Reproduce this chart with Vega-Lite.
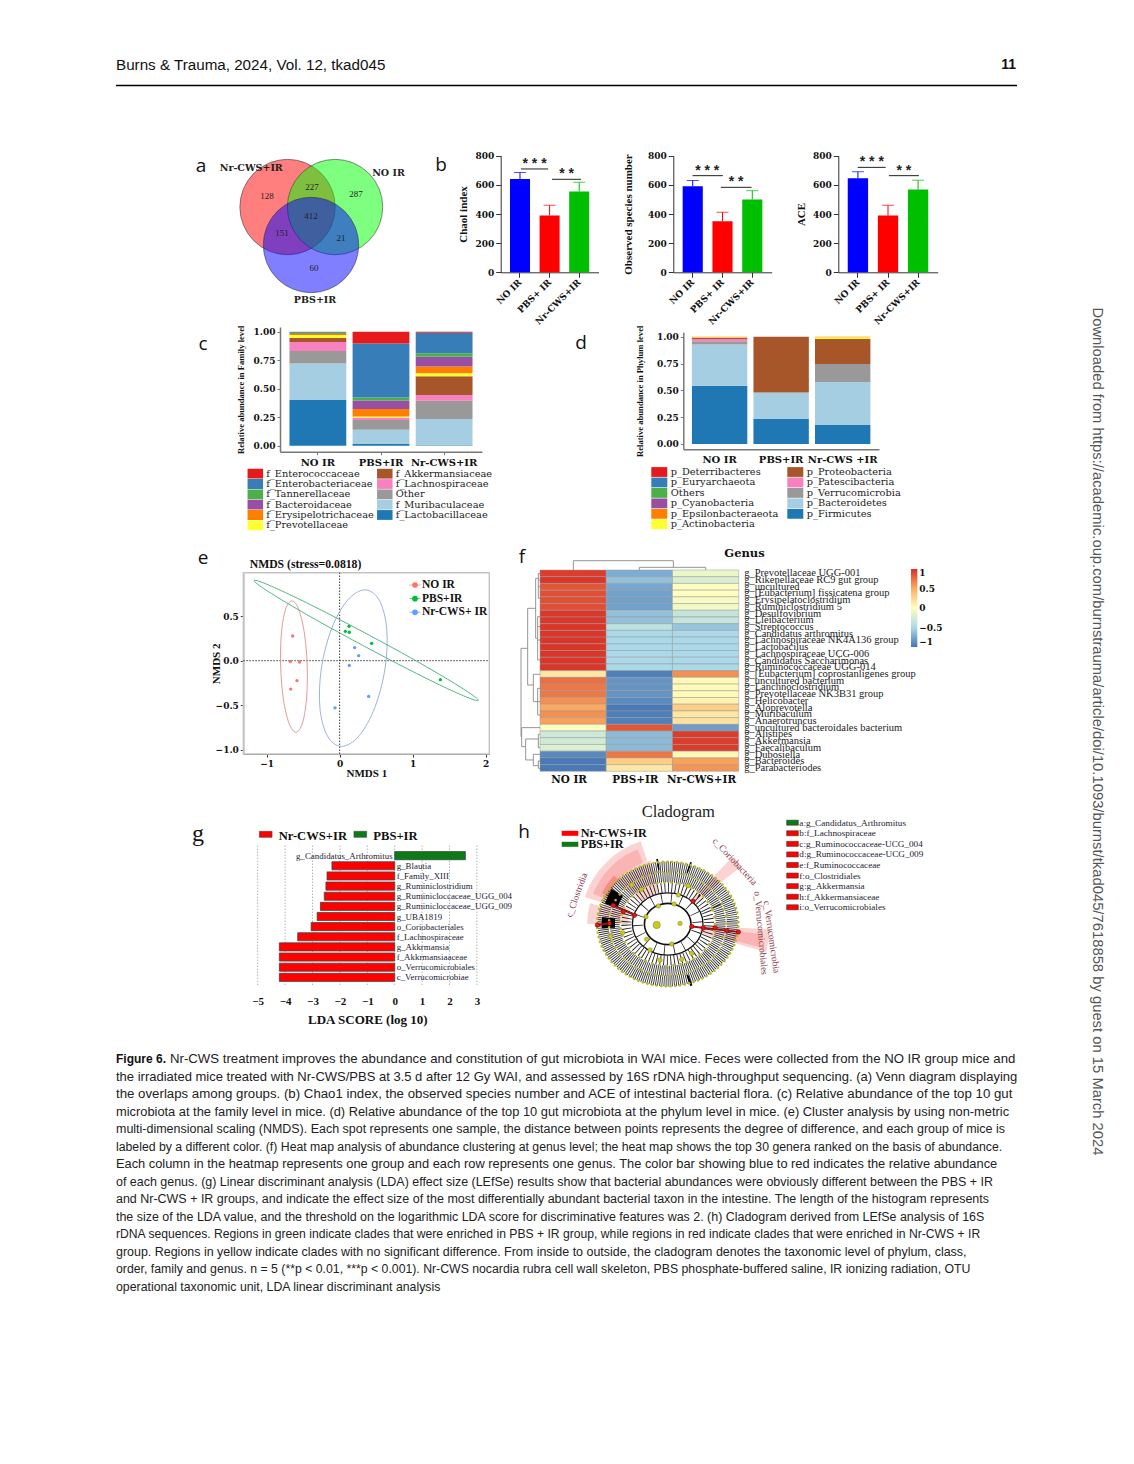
{"$schema":"https://vega.github.io/schema/vega-lite/v6.json","width":1134,"height":1464,"autosize":"none","padding":0,"background":"white",
"config":{"view":{"stroke":null},"axis":{"grid":false,"labelFont":"DejaVu Serif","labelFontWeight":"bold","labelFontSize":9,"labelColor":"#111","domainColor":"#333","tickColor":"#333","tickSize":5,"titleFont":"Liberation Serif","titleFontWeight":"bold","titleFontSize":11,"titleColor":"#111","labelOverlap":false,"labelBound":false,"labelFlush":false}},
"datasets":{
"alpha":[
{"chart":"chao","group":"NO IR","mean":640,"err":685},{"chart":"chao","group":"PBS+ IR","mean":390,"err":460},{"chart":"chao","group":"Nr-CWS+IR","mean":555,"err":618},
{"chart":"obs","group":"NO IR","mean":590,"err":630},{"chart":"obs","group":"PBS+ IR","mean":350,"err":412},{"chart":"obs","group":"Nr-CWS+IR","mean":500,"err":560},
{"chart":"ace","group":"NO IR","mean":645,"err":690},{"chart":"ace","group":"PBS+ IR","mean":390,"err":460},{"chart":"ace","group":"Nr-CWS+IR","mean":568,"err":632}],
"sig":[
{"chart":"chao","from":0.03,"to":0.95,"mid":0.49,"level":709,"stars":"* * *"},{"chart":"chao","from":1.08,"to":2.06,"mid":1.57,"level":638,"stars":"* *"},
{"chart":"obs","from":0,"to":1.03,"mid":0.5,"level":663,"stars":"* * *"},{"chart":"obs","from":0.96,"to":2,"mid":1.48,"level":583,"stars":"* *"},
{"chart":"ace","from":0,"to":0.93,"mid":0.47,"level":720,"stars":"* * *"},{"chart":"ace","from":1.04,"to":2.04,"mid":1.54,"level":663,"stars":"* *"}],
"family":[
{"group":"NO IR","taxon":"f_Lactobacillaceae","value":0.40,"rank":1},{"group":"NO IR","taxon":"f_Muribaculaceae","value":0.32,"rank":2},{"group":"NO IR","taxon":"Other","value":0.11,"rank":3},{"group":"NO IR","taxon":"f_Lachnospiraceae","value":0.08,"rank":4},{"group":"NO IR","taxon":"f_Akkermansiaceae","value":0.035,"rank":5},{"group":"NO IR","taxon":"f_Prevotellaceae","value":0.025,"rank":6},{"group":"NO IR","taxon":"f_Erysipelotrichaceae","value":0.012,"rank":7},{"group":"NO IR","taxon":"f_Bacteroidaceae","value":0.006,"rank":8},{"group":"NO IR","taxon":"f_Tannerellaceae","value":0.012,"rank":9},
{"group":"PBS+IR","taxon":"f_Lactobacillaceae","value":0.015,"rank":1},{"group":"PBS+IR","taxon":"f_Muribaculaceae","value":0.125,"rank":2},{"group":"PBS+IR","taxon":"Other","value":0.085,"rank":3},{"group":"PBS+IR","taxon":"f_Lachnospiraceae","value":0.02,"rank":4},{"group":"PBS+IR","taxon":"f_Prevotellaceae","value":0.012,"rank":6},{"group":"PBS+IR","taxon":"f_Erysipelotrichaceae","value":0.065,"rank":7},{"group":"PBS+IR","taxon":"f_Bacteroidaceae","value":0.075,"rank":8},{"group":"PBS+IR","taxon":"f_Tannerellaceae","value":0.025,"rank":9},{"group":"PBS+IR","taxon":"f_Enterobacteriaceae","value":0.475,"rank":10},{"group":"PBS+IR","taxon":"f_Enterococcaceae","value":0.103,"rank":11},
{"group":"Nr-CWS+IR","taxon":"f_Lactobacillaceae","value":0.005,"rank":1},{"group":"Nr-CWS+IR","taxon":"f_Muribaculaceae","value":0.23,"rank":2},{"group":"Nr-CWS+IR","taxon":"Other","value":0.16,"rank":3},{"group":"Nr-CWS+IR","taxon":"f_Lachnospiraceae","value":0.05,"rank":4},{"group":"Nr-CWS+IR","taxon":"f_Akkermansiaceae","value":0.165,"rank":5},{"group":"Nr-CWS+IR","taxon":"f_Prevotellaceae","value":0.025,"rank":6},{"group":"Nr-CWS+IR","taxon":"f_Erysipelotrichaceae","value":0.06,"rank":7},{"group":"Nr-CWS+IR","taxon":"f_Bacteroidaceae","value":0.085,"rank":8},{"group":"Nr-CWS+IR","taxon":"f_Tannerellaceae","value":0.03,"rank":9},{"group":"Nr-CWS+IR","taxon":"f_Enterobacteriaceae","value":0.18,"rank":10},{"group":"Nr-CWS+IR","taxon":"f_Enterococcaceae","value":0.01,"rank":11}],
"phylum":[
{"group":"NO IR","taxon":"p_Firmicutes","value":0.543,"rank":1},{"group":"NO IR","taxon":"p_Bacteroidetes","value":0.385,"rank":2},{"group":"NO IR","taxon":"p_Verrucomicrobia","value":0.03,"rank":3},{"group":"NO IR","taxon":"p_Patescibacteria","value":0.02,"rank":4},{"group":"NO IR","taxon":"p_Proteobacteria","value":0.012,"rank":5},{"group":"NO IR","taxon":"p_Actinobacteria","value":0.004,"rank":6},{"group":"NO IR","taxon":"p_Epsilonbacteraeota","value":0.006,"rank":7},
{"group":"PBS+IR","taxon":"p_Firmicutes","value":0.233,"rank":1},{"group":"PBS+IR","taxon":"p_Bacteroidetes","value":0.248,"rank":2},{"group":"PBS+IR","taxon":"p_Proteobacteria","value":0.519,"rank":5},
{"group":"Nr-CWS +IR","taxon":"p_Firmicutes","value":0.177,"rank":1},{"group":"Nr-CWS +IR","taxon":"p_Bacteroidetes","value":0.40,"rank":2},{"group":"Nr-CWS +IR","taxon":"p_Verrucomicrobia","value":0.168,"rank":3},{"group":"Nr-CWS +IR","taxon":"p_Proteobacteria","value":0.233,"rank":5},{"group":"Nr-CWS +IR","taxon":"p_Actinobacteria","value":0.018,"rank":6},{"group":"Nr-CWS +IR","taxon":"p_Epsilonbacteraeota","value":0.004,"rank":7}],
"heat":[
{"g":"g_Prevotellaceae UGG-001","NO":0.95,"PBS":-0.72,"Nr":-0.12},{"g":"g_Rikenellaceae RC9 gut group","NO":0.98,"PBS":-0.62,"Nr":-0.22},{"g":"g_uncultured","NO":0.85,"PBS":-0.75,"Nr":0},{"g":"g_[Eubacterium] fissicatena group","NO":0.88,"PBS":-0.78,"Nr":0},{"g":"g_Erysipelatoclostridium","NO":0.88,"PBS":-0.78,"Nr":-0.05},{"g":"g_Ruminiclostridium 5","NO":0.88,"PBS":-0.78,"Nr":-0.08},{"g":"g_Desulfovibrium","NO":0.97,"PBS":-0.62,"Nr":-0.35},{"g":"g_Lleibacterium","NO":0.97,"PBS":-0.62,"Nr":-0.35},{"g":"g_Streptococcus","NO":0.98,"PBS":-0.4,"Nr":-0.6},{"g":"g_Candidatus arthromitus","NO":0.98,"PBS":-0.5,"Nr":-0.5},{"g":"g_Lachnospiraceae NK4A136 group","NO":0.98,"PBS":-0.5,"Nr":-0.5},{"g":"g_Lactobacilus","NO":0.98,"PBS":-0.5,"Nr":-0.5},{"g":"g_Lachnospiraceae UCG-006","NO":0.98,"PBS":-0.5,"Nr":-0.5},{"g":"g_Candidatus Saccharimonas","NO":0.98,"PBS":-0.5,"Nr":-0.5},{"g":"g_Ruminococcaceae UGG-014","NO":0.98,"PBS":-0.5,"Nr":-0.5},{"g":"g_[Eubacterium] coprostanligenes group","NO":0.15,"PBS":-0.95,"Nr":0.62},{"g":"g_uncultured bacterium","NO":0.75,"PBS":-0.85,"Nr":0.03},{"g":"g_Lanchnoclostridium","NO":0.72,"PBS":-0.85,"Nr":0.03},{"g":"g_Prevotellaceae NK3B31 group","NO":0.72,"PBS":-0.85,"Nr":0.03},{"g":"g_Helicobacter","NO":0.62,"PBS":-0.9,"Nr":0.08},{"g":"g_Aloprevotella","NO":0.52,"PBS":-0.98,"Nr":0.3},{"g":"g_Muribaculum","NO":0.62,"PBS":-0.95,"Nr":0.15},{"g":"g_Anaerotruncus","NO":0.55,"PBS":-0.95,"Nr":0.18},{"g":"g_uncultured bacteroidales bacterium","NO":-0.02,"PBS":0.85,"Nr":-0.8},{"g":"g_Alistipes","NO":-0.3,"PBS":-0.65,"Nr":0.95},{"g":"g_Akkermansia","NO":-0.28,"PBS":-0.65,"Nr":0.95},{"g":"g_Faecalibaculum","NO":-0.2,"PBS":-0.65,"Nr":0.95},{"g":"g_Dubosiella","NO":-0.9,"PBS":0.72,"Nr":0.05},{"g":"g_Bacteroides","NO":-0.98,"PBS":0.3,"Nr":0.55},{"g":"g_Parabacteriodes","NO":-0.98,"PBS":0.15,"Nr":0.6}],
"ring":[{"i":0,"x":1,"y":0},{"i":1,"x":0.924,"y":0.383},{"i":2,"x":0.707,"y":0.707},{"i":3,"x":0.383,"y":0.924},{"i":4,"x":0,"y":1},{"i":5,"x":-0.383,"y":0.924},{"i":6,"x":-0.707,"y":0.707},{"i":7,"x":-0.924,"y":0.383},{"i":8,"x":-1,"y":0},{"i":9,"x":-0.924,"y":-0.383},{"i":10,"x":-0.707,"y":-0.707},{"i":11,"x":-0.383,"y":-0.924},{"i":12,"x":0,"y":-1},{"i":13,"x":0.383,"y":-0.924},{"i":14,"x":0.707,"y":-0.707},{"i":15,"x":0.924,"y":-0.383}]
},
"layer":[
{"data":{"values":[{"t":"Burns & Trauma, 2024, Vol. 12, tkad045"}]},"mark":{"type":"text","font":"Liberation Sans","fontSize":15.2,"align":"left","baseline":"middle","color":"#111"},"encoding":{"x":{"value":116},"y":{"value":65},"text":{"field":"t"}}},
{"data":{"values":[{"t":"11"}]},"mark":{"type":"text","font":"Liberation Sans","fontWeight":"bold","fontSize":14,"align":"right","baseline":"middle","color":"#111"},"encoding":{"x":{"value":1016},"y":{"value":65},"text":{"field":"t"}}},
{"data":{"values":[{"t":"rule"}]},"mark":{"type":"rule","color":"black","strokeWidth":1.6},"encoding":{"x":{"value":116},"x2":{"value":1017},"y":{"value":85.5}}},
{"data":{"values":[{"t":"Downloaded from https://academic.oup.com/burnstrauma/article/doi/10.1093/burnst/tkad045/7618858 by guest on 15 March 2024"}]},"mark":{"type":"text","font":"Liberation Sans","fontSize":14.8,"angle":90,"align":"center","baseline":"middle","color":"#555"},"encoding":{"x":{"value":1097},"y":{"value":731.5},"text":{"field":"t"}}},
{"data":{"values":[{"t":"a","px":201,"py":166},{"t":"b","px":441,"py":165},{"t":"c","px":203,"py":344},{"t":"d","px":581,"py":343},{"t":"e","px":203,"py":558},{"t":"f","px":522,"py":557},{"t":"h","px":524,"py":832}]},"mark":{"type":"text","font":"Open Sans","fontSize":19,"align":"center","baseline":"middle","color":"#111"},"encoding":{"x":{"field":"px","type":"quantitative","scale":{"domain":[0,1134],"range":[0,1134]},"axis":null},"y":{"field":"py","type":"quantitative","scale":{"domain":[0,1464],"range":[0,1464]},"axis":null},"text":{"field":"t"}}},
{"data":{"values":[{"t":"g"}]},"mark":{"type":"text","font":"Liberation Serif","fontSize":24,"align":"center","baseline":"middle","color":"#111"},"encoding":{"x":{"value":198},"y":{"value":834},"text":{"field":"t"}}},
{"data":{"values":[{"t":"NMDS (stress=0.0818)"}]},"mark":{"type":"text","font":"Liberation Serif","fontWeight":"bold","fontSize":11.7,"align":"center","baseline":"middle","color":"#111"},"encoding":{"x":{"value":305.5},"y":{"value":564},"text":{"field":"t"}}},
{"data":{"values":[{"t":"Genus"}]},"mark":{"type":"text","font":"DejaVu Serif","fontWeight":"bold","fontSize":11.5,"align":"center","baseline":"middle","color":"#111"},"encoding":{"x":{"value":744.5},"y":{"value":554},"text":{"field":"t"}}},

{"encoding":{"x":{"field":"x","type":"quantitative","scale":{"domain":[0,100],"range":[239,383]},"axis":null},"y":{"field":"y","type":"quantitative","scale":{"domain":[0,100],"range":[161,290]},"axis":null}},"layer":[
{"data":{"values":[{"set":"Nr-CWS+IR","x":33.7,"y":35.7},{"set":"NO IR","x":66.7,"y":35.7},{"set":"PBS+IR","x":50,"y":65.1}]},"mark":{"type":"point","filled":true,"fillOpacity":0.5,"stroke":"#333","strokeWidth":0.6,"strokeOpacity":0.9,"size":9100},"encoding":{"fill":{"field":"set","scale":{"domain":["Nr-CWS+IR","NO IR","PBS+IR"],"range":["#ff0000","#00ff00","#0000ff"]},"legend":null}}},
{"data":{"values":[{"t":"128","x":19.4,"y":27.1},{"t":"227","x":50.7,"y":20.2},{"t":"287","x":81.3,"y":25.6},{"t":"412","x":50,"y":42.6},{"t":"151","x":29.9,"y":55.8},{"t":"21","x":70.8,"y":59.7},{"t":"60","x":52.1,"y":82.9}]},"mark":{"type":"text","font":"Liberation Serif","fontSize":9,"color":"#222"},"encoding":{"text":{"field":"t"}}},
{"data":{"values":[{"t":"Nr-CWS+IR","x":8.5,"y":5.4},{"t":"NO IR","x":103.8,"y":9.3},{"t":"PBS+IR","x":52.8,"y":107.8}]},"mark":{"type":"text","font":"DejaVu Serif","fontWeight":"bold","fontSize":9.5,"color":"#222"},"encoding":{"text":{"field":"t"}}}
]},

{"data":{"name":"alpha"},"transform":[{"filter":{"field":"chart","equal":"chao"}}],"encoding":{"x":{"field":"group","type":"nominal","sort":["NO IR","PBS+ IR","Nr-CWS+IR"],"scale":{"domain":["NO IR","PBS+ IR","Nr-CWS+IR"],"range":[500.7,598.5],"paddingInner":0.324,"paddingOuter":0.314},"axis":{"orient":"bottom","offset":-1191.7,"labelAngle":-45,"labelAlign":"right","labelBaseline":"middle","labelPadding":3,"title":null}},"color":{"field":"group","scale":{"domain":["NO IR","PBS+ IR","Nr-CWS+IR"],"range":["#0000ff","#ff0000","#00bf00"]},"legend":null}},
"layer":[{"mark":"bar","encoding":{"y":{"field":"mean","type":"quantitative","scale":{"domain":[0,800],"range":[272.3,155.7]},"axis":{"orient":"left","offset":-500.7,"values":[0,200,400,600,800],"title":"Chaol index","titlePadding":6}}}},
{"mark":{"type":"rule","strokeWidth":1},"encoding":{"y":{"field":"mean","type":"quantitative"},"y2":{"field":"err"}}},
{"mark":{"type":"tick","size":12,"thickness":1},"encoding":{"y":{"field":"err","type":"quantitative"}}}]},
{"data":{"name":"sig"},"transform":[{"filter":{"field":"chart","equal":"chao"}}],"encoding":{"y":{"field":"level","type":"quantitative","scale":{"domain":[0,800],"range":[272.3,155.7]},"axis":null},"x":{"field":"from","type":"quantitative","scale":{"domain":[0,2],"range":[520,579.3]},"axis":null}},"layer":[{"mark":{"type":"rule","color":"#222","strokeWidth":1},"encoding":{"x2":{"field":"to"}}},{"mark":{"type":"text","font":"Liberation Sans","fontWeight":"bold","fontSize":14,"baseline":"alphabetic","dy":-1,"color":"#222"},"encoding":{"x":{"field":"mid","type":"quantitative"},"text":{"field":"stars"}}}]},

{"data":{"name":"alpha"},"transform":[{"filter":{"field":"chart","equal":"obs"}}],"encoding":{"x":{"field":"group","type":"nominal","sort":["NO IR","PBS+ IR","Nr-CWS+IR"],"scale":{"domain":["NO IR","PBS+ IR","Nr-CWS+IR"],"range":[673.3,771.7],"paddingInner":0.324,"paddingOuter":0.314},"axis":{"orient":"bottom","offset":-1191.7,"labelAngle":-45,"labelAlign":"right","labelBaseline":"middle","labelPadding":3,"title":null}},"color":{"field":"group","scale":{"domain":["NO IR","PBS+ IR","Nr-CWS+IR"],"range":["#0000ff","#ff0000","#00bf00"]},"legend":null}},
"layer":[{"mark":"bar","encoding":{"y":{"field":"mean","type":"quantitative","scale":{"domain":[0,800],"range":[272.3,155.7]},"axis":{"orient":"left","offset":-673.3,"values":[0,200,400,600,800],"title":"Observed species number","titlePadding":14}}}},
{"mark":{"type":"rule","strokeWidth":1},"encoding":{"y":{"field":"mean","type":"quantitative"},"y2":{"field":"err"}}},
{"mark":{"type":"tick","size":12,"thickness":1},"encoding":{"y":{"field":"err","type":"quantitative"}}}]},
{"data":{"name":"sig"},"transform":[{"filter":{"field":"chart","equal":"obs"}}],"encoding":{"y":{"field":"level","type":"quantitative","scale":{"domain":[0,800],"range":[272.3,155.7]},"axis":null},"x":{"field":"from","type":"quantitative","scale":{"domain":[0,2],"range":[692.5,751.5]},"axis":null}},"layer":[{"mark":{"type":"rule","color":"#222","strokeWidth":1},"encoding":{"x2":{"field":"to"}}},{"mark":{"type":"text","font":"Liberation Sans","fontWeight":"bold","fontSize":14,"baseline":"alphabetic","dy":-1,"color":"#222"},"encoding":{"x":{"field":"mid","type":"quantitative"},"text":{"field":"stars"}}}]},

{"data":{"name":"alpha"},"transform":[{"filter":{"field":"chart","equal":"ace"}}],"encoding":{"x":{"field":"group","type":"nominal","sort":["NO IR","PBS+ IR","Nr-CWS+IR"],"scale":{"domain":["NO IR","PBS+ IR","Nr-CWS+IR"],"range":[838.3,937.7],"paddingInner":0.324,"paddingOuter":0.314},"axis":{"orient":"bottom","offset":-1191.7,"labelAngle":-45,"labelAlign":"right","labelBaseline":"middle","labelPadding":3,"title":null}},"color":{"field":"group","scale":{"domain":["NO IR","PBS+ IR","Nr-CWS+IR"],"range":["#0000ff","#ff0000","#00bf00"]},"legend":null}},
"layer":[{"mark":"bar","encoding":{"y":{"field":"mean","type":"quantitative","scale":{"domain":[0,800],"range":[272.3,155.7]},"axis":{"orient":"left","offset":-838.3,"values":[0,200,400,600,800],"title":"ACE","titlePadding":6}}}},
{"mark":{"type":"rule","strokeWidth":1},"encoding":{"y":{"field":"mean","type":"quantitative"},"y2":{"field":"err"}}},
{"mark":{"type":"tick","size":12,"thickness":1},"encoding":{"y":{"field":"err","type":"quantitative"}}}]},
{"data":{"name":"sig"},"transform":[{"filter":{"field":"chart","equal":"ace"}}],"encoding":{"y":{"field":"level","type":"quantitative","scale":{"domain":[0,800],"range":[272.3,155.7]},"axis":null},"x":{"field":"from","type":"quantitative","scale":{"domain":[0,2],"range":[857.7,917.7]},"axis":null}},"layer":[{"mark":{"type":"rule","color":"#222","strokeWidth":1},"encoding":{"x2":{"field":"to"}}},{"mark":{"type":"text","font":"Liberation Sans","fontWeight":"bold","fontSize":14,"baseline":"alphabetic","dy":-1,"color":"#222"},"encoding":{"x":{"field":"mid","type":"quantitative"},"text":{"field":"stars"}}}]},

{"data":{"name":"family"},"mark":"bar","encoding":{"x":{"field":"group","type":"nominal","sort":["NO IR","PBS+IR","Nr-CWS+IR"],"scale":{"domain":["NO IR","PBS+IR","Nr-CWS+IR"],"range":[280,482],"paddingInner":0.1,"paddingOuter":0.15},"axis":{"orient":"bottom","offset":-1012.3,"labelAngle":0,"title":null,"labelFontSize":10,"domainColor":"#777","domainWidth":1.5,"tickColor":"#777","tickSize":3,"labelPadding":3}},"y":{"field":"value","type":"quantitative","stack":"zero","scale":{"domain":[-0.0526,1.041],"range":[451.7,327],"zero":false,"nice":false},"axis":{"orient":"left","offset":-280,"values":[0,0.25,0.5,0.75,1],"format":".2f","title":"Relative abundance in Family level","titleFontSize":8.6,"titlePadding":8,"domainColor":"#777","domainWidth":1.5,"tickColor":"#777","tickSize":3}},"color":{"field":"taxon","scale":{"domain":["f_Enterococcaceae","f_Enterobacteriaceae","f_Tannerellaceae","f_Bacteroidaceae","f_Erysipelotrichaceae","f_Prevotellaceae","f_Akkermansiaceae","f_Lachnospiraceae","Other","f_Muribaculaceae","f_Lactobacillaceae"],"range":["#e41a1c","#377eb8","#4daf4a","#984ea3","#ff7f00","#ffff33","#a65628","#f781bf","#999999","#a6cee3","#1f78b4"]},"legend":null},"order":{"field":"rank"}}},
{"data":{"values":[{"taxon":"f_Enterococcaceae","col":0,"row":0},{"taxon":"f_Enterobacteriaceae","col":0,"row":1},{"taxon":"f_Tannerellaceae","col":0,"row":2},{"taxon":"f_Bacteroidaceae","col":0,"row":3},{"taxon":"f_Erysipelotrichaceae","col":0,"row":4},{"taxon":"f_Prevotellaceae","col":0,"row":5},{"taxon":"f_Akkermansiaceae","col":1,"row":0},{"taxon":"f_Lachnospiraceae","col":1,"row":1},{"taxon":"Other","col":1,"row":2},{"taxon":"f_Muribaculaceae","col":1,"row":3},{"taxon":"f_Lactobacillaceae","col":1,"row":4}]},"encoding":{"x":{"field":"col","type":"quantitative","scale":{"domain":[0,1],"range":[255.3,384.8]},"axis":null},"y":{"field":"row","type":"quantitative","scale":{"domain":[0,5],"range":[473.7,525.3]},"axis":null}},"layer":[{"mark":{"type":"rect","width":15.5,"height":9.8},"encoding":{"color":{"field":"taxon","scale":{"domain":["f_Enterococcaceae","f_Enterobacteriaceae","f_Tannerellaceae","f_Bacteroidaceae","f_Erysipelotrichaceae","f_Prevotellaceae","f_Akkermansiaceae","f_Lachnospiraceae","Other","f_Muribaculaceae","f_Lactobacillaceae"],"range":["#e41a1c","#377eb8","#4daf4a","#984ea3","#ff7f00","#ffff33","#a65628","#f781bf","#999999","#a6cee3","#1f78b4"]},"legend":null}}},{"mark":{"type":"text","font":"DejaVu Serif","fontSize":9.8,"align":"left","dx":11,"color":"#222"},"encoding":{"text":{"field":"taxon"}}}]},

{"data":{"name":"phylum"},"mark":"bar","encoding":{"x":{"field":"group","type":"nominal","sort":["NO IR","PBS+IR","Nr-CWS +IR"],"scale":{"domain":["NO IR","PBS+IR","Nr-CWS +IR"],"range":[683.3,879],"paddingInner":0.1,"paddingOuter":0.14},"axis":{"orient":"bottom","offset":-1014.7,"labelAngle":0,"title":null,"labelFontSize":10,"domainColor":"#777","domainWidth":1.5,"tickSize":0,"labelPadding":5}},"y":{"field":"value","type":"quantitative","stack":"zero","scale":{"domain":[-0.0494,1.041],"range":[449.3,332.3],"zero":false,"nice":false},"axis":{"orient":"left","offset":-683.3,"values":[0,0.25,0.5,0.75,1],"format":".2f","title":"Relative abundance in Phylum level","titleFontSize":8.6,"titlePadding":12,"domainColor":"#777","domainWidth":1.5,"tickColor":"#777","tickSize":3}},"color":{"field":"taxon","scale":{"domain":["p_Deterribacteres","p_Euryarchaeota","Others","p_Cyanobacteria","p_Epsilonbacteraeota","p_Actinobacteria","p_Proteobacteria","p_Patescibacteria","p_Verrucomicrobia","p_Bacteroidetes","p_Firmicutes"],"range":["#e41a1c","#377eb8","#4daf4a","#984ea3","#ff7f00","#ffff33","#a65628","#f781bf","#999999","#a6cee3","#1f78b4"]},"legend":null},"order":{"field":"rank"}}},
{"data":{"values":[{"taxon":"p_Deterribacteres","col":0,"row":0},{"taxon":"p_Euryarchaeota","col":0,"row":1},{"taxon":"Others","col":0,"row":2},{"taxon":"p_Cyanobacteria","col":0,"row":3},{"taxon":"p_Epsilonbacteraeota","col":0,"row":4},{"taxon":"p_Actinobacteria","col":0,"row":5},{"taxon":"p_Proteobacteria","col":1,"row":0},{"taxon":"p_Patescibacteria","col":1,"row":1},{"taxon":"p_Verrucomicrobia","col":1,"row":2},{"taxon":"p_Bacteroidetes","col":1,"row":3},{"taxon":"p_Firmicutes","col":1,"row":4}]},"encoding":{"x":{"field":"col","type":"quantitative","scale":{"domain":[0,1],"range":[659.3,795.3]},"axis":null},"y":{"field":"row","type":"quantitative","scale":{"domain":[0,5],"range":[472,524.3]},"axis":null}},"layer":[{"mark":{"type":"rect","width":16,"height":9.8},"encoding":{"color":{"field":"taxon","scale":{"domain":["p_Deterribacteres","p_Euryarchaeota","Others","p_Cyanobacteria","p_Epsilonbacteraeota","p_Actinobacteria","p_Proteobacteria","p_Patescibacteria","p_Verrucomicrobia","p_Bacteroidetes","p_Firmicutes"],"range":["#e41a1c","#377eb8","#4daf4a","#984ea3","#ff7f00","#ffff33","#a65628","#f781bf","#999999","#a6cee3","#1f78b4"]},"legend":null}}},{"mark":{"type":"text","font":"DejaVu Serif","fontSize":9.8,"align":"left","dx":11.5,"color":"#222"},"encoding":{"text":{"field":"taxon"}}}]},

{"layer":[
{"data":{"values":[{"x":-1.32,"x2":2.05,"y":-1.05,"y2":0.99}]},"mark":{"type":"rect","fillOpacity":0,"stroke":"#c4c4c4","strokeWidth":1.4},"encoding":{"x":{"field":"x","type":"quantitative","scale":{"domain":[-1.32,2.05],"range":[243.3,489.3],"nice":false,"zero":false},"axis":{"orient":"bottom","offset":-710,"values":[-1,0,1,2],"format":"d","title":"NMDS 1","titlePadding":-1,"titleFontSize":11,"tickSize":3,"domainColor":"#666"}},"x2":{"field":"x2"},"y":{"field":"y","type":"quantitative","scale":{"domain":[-1.05,0.99],"range":[754,572.7],"nice":false,"zero":false},"axis":{"orient":"left","offset":-243.3,"values":[-1,-0.5,0,0.5],"format":".1f","title":"NMDS 2","titlePadding":-6,"titleFontSize":11,"tickSize":3,"domainColor":"#666"}},"y2":{"field":"y2"}}},
{"data":{"values":[{"x":0,"y":-1.05,"y2":0.99}]},"mark":{"type":"rule","color":"#222","strokeDash":[1.5,1.5],"strokeWidth":0.9},"encoding":{"x":{"field":"x","type":"quantitative"},"y":{"field":"y","type":"quantitative"},"y2":{"field":"y2"}}},
{"data":{"values":[{"x":-1.32,"x2":2.05,"y":0}]},"mark":{"type":"rule","color":"#222","strokeDash":[1.5,1.5],"strokeWidth":0.9},"encoding":{"x":{"field":"x","type":"quantitative"},"x2":{"field":"x2"},"y":{"field":"y","type":"quantitative"}}},
{"data":{"values":[
{"g":"NO IR","i":0,"x":-0.653,"y":0.673},{"g":"NO IR","i":1,"x":-0.561,"y":0.577},{"g":"NO IR","i":2,"x":-0.483,"y":0.308},{"g":"NO IR","i":3,"x":-0.444,"y":-0.061},{"g":"NO IR","i":4,"x":-0.454,"y":-0.431},{"g":"NO IR","i":5,"x":-0.51,"y":-0.703},{"g":"NO IR","i":6,"x":-0.597,"y":-0.805},{"g":"NO IR","i":7,"x":-0.692,"y":-0.708},{"g":"NO IR","i":8,"x":-0.77,"y":-0.439},{"g":"NO IR","i":9,"x":-0.808,"y":-0.071},{"g":"NO IR","i":10,"x":-0.799,"y":0.299},{"g":"NO IR","i":11,"x":-0.743,"y":0.572},
{"g":"Nr-CWS+ IR","i":0,"x":0.346,"y":0.797},{"g":"Nr-CWS+ IR","i":1,"x":0.543,"y":0.679},{"g":"Nr-CWS+ IR","i":2,"x":0.645,"y":0.357},{"g":"Nr-CWS+ IR","i":3,"x":0.623,"y":-0.083},{"g":"Nr-CWS+ IR","i":4,"x":0.484,"y":-0.523},{"g":"Nr-CWS+ IR","i":5,"x":0.267,"y":-0.845},{"g":"Nr-CWS+ IR","i":6,"x":0.027,"y":-0.964},{"g":"Nr-CWS+ IR","i":7,"x":-0.169,"y":-0.845},{"g":"Nr-CWS+ IR","i":8,"x":-0.271,"y":-0.523},{"g":"Nr-CWS+ IR","i":9,"x":-0.25,"y":-0.083},{"g":"Nr-CWS+ IR","i":10,"x":-0.112,"y":0.357},{"g":"Nr-CWS+ IR","i":11,"x":0.107,"y":0.679},
{"g":"PBS+IR","i":0,"x":1.9,"y":-0.447},{"g":"PBS+IR","i":1,"x":1.798,"y":-0.374},{"g":"PBS+IR","i":2,"x":1.478,"y":-0.208},{"g":"PBS+IR","i":3,"x":0.989,"y":0.025},{"g":"PBS+IR","i":4,"x":0.403,"y":0.288},{"g":"PBS+IR","i":5,"x":-0.188,"y":0.542},{"g":"PBS+IR","i":6,"x":-0.693,"y":0.747},{"g":"PBS+IR","i":7,"x":-1.039,"y":0.874},{"g":"PBS+IR","i":8,"x":-1.171,"y":0.902},{"g":"PBS+IR","i":9,"x":-1.069,"y":0.828},{"g":"PBS+IR","i":10,"x":-0.749,"y":0.662},{"g":"PBS+IR","i":11,"x":-0.26,"y":0.43},{"g":"PBS+IR","i":12,"x":0.326,"y":0.168},{"g":"PBS+IR","i":13,"x":0.917,"y":-0.087},{"g":"PBS+IR","i":14,"x":1.422,"y":-0.293},{"g":"PBS+IR","i":15,"x":1.768,"y":-0.419}]},"mark":{"type":"line","interpolate":"cardinal-closed","strokeWidth":0.9},"encoding":{"x":{"field":"x","type":"quantitative"},"y":{"field":"y","type":"quantitative"},"order":{"field":"i"},"stroke":{"field":"g","scale":{"domain":["NO IR","PBS+IR","Nr-CWS+ IR"],"range":["#e08f8f","#3fae74","#92a9de"]},"legend":null}}},
{"data":{"values":[{"g":"NO IR","x":-0.644,"y":0.278},{"g":"NO IR","x":-0.676,"y":-0.01},{"g":"NO IR","x":-0.55,"y":-0.015},{"g":"NO IR","x":-0.585,"y":-0.225},{"g":"NO IR","x":-0.67,"y":-0.32},{"g":"PBS+IR","x":0.128,"y":0.387},{"g":"PBS+IR","x":0.078,"y":0.33},{"g":"PBS+IR","x":0.132,"y":0.32},{"g":"PBS+IR","x":0.438,"y":0.195},{"g":"PBS+IR","x":1.38,"y":-0.214},{"g":"Nr-CWS+ IR","x":0.205,"y":0.147},{"g":"Nr-CWS+ IR","x":0.26,"y":0.056},{"g":"Nr-CWS+ IR","x":0.132,"y":-0.053},{"g":"Nr-CWS+ IR","x":0.397,"y":-0.402},{"g":"Nr-CWS+ IR","x":-0.064,"y":-0.53}]},"mark":{"type":"point","filled":true,"size":11,"opacity":1},"encoding":{"x":{"field":"x","type":"quantitative"},"y":{"field":"y","type":"quantitative"},"color":{"field":"g","scale":{"domain":["NO IR","PBS+IR","Nr-CWS+ IR"],"range":["#f8766d","#00ba38","#619cff"]},"legend":null}}}
]},
{"data":{"values":[{"g":"NO IR","row":0},{"g":"PBS+IR","row":1},{"g":"Nr-CWS+ IR","row":2}]},"encoding":{"y":{"field":"row","type":"quantitative","scale":{"domain":[0,2],"range":[585,612.3]},"axis":null}},"layer":[{"mark":{"type":"tick","size":11,"thickness":1},"encoding":{"x":{"value":415},"color":{"field":"g","scale":{"domain":["NO IR","PBS+IR","Nr-CWS+ IR"],"range":["#f8766d","#00ba38","#619cff"]},"legend":null}}},{"mark":{"type":"point","filled":true,"size":32,"opacity":1},"encoding":{"x":{"value":415},"color":{"field":"g","scale":{"domain":["NO IR","PBS+IR","Nr-CWS+ IR"],"range":["#f8766d","#00ba38","#619cff"]},"legend":null}}},{"mark":{"type":"text","font":"Liberation Serif","fontWeight":"bold","fontSize":11.5,"align":"left","color":"#111"},"encoding":{"x":{"value":422},"text":{"field":"g"}}}]},

{"data":{"name":"heat"},"transform":[{"fold":["NO","PBS","Nr"],"as":["grp","z"]}],"mark":{"type":"rect","stroke":"#999999","strokeWidth":0.5},"encoding":{"x":{"field":"grp","type":"nominal","sort":["NO","PBS","Nr"],"scale":{"domain":["NO","PBS","Nr"],"range":[540,738.7],"paddingInner":0,"paddingOuter":0},"axis":{"orient":"bottom","offset":-692.7,"labelAngle":0,"ticks":false,"domain":false,"title":null,"labelPadding":3,"labelFontSize":10.4,"labelOffset":-4,"labelExpr":"{NO:'NO IR',PBS:'PBS+IR',Nr:'Nr-CWS+IR'}[datum.value]"}},"y":{"field":"g","type":"nominal","sort":null,"scale":{"domain":["g_Prevotellaceae UGG-001","g_Rikenellaceae RC9 gut group","g_uncultured","g_[Eubacterium] fissicatena group","g_Erysipelatoclostridium","g_Ruminiclostridium 5","g_Desulfovibrium","g_Lleibacterium","g_Streptococcus","g_Candidatus arthromitus","g_Lachnospiraceae NK4A136 group","g_Lactobacilus","g_Lachnospiraceae UCG-006","g_Candidatus Saccharimonas","g_Ruminococcaceae UGG-014","g_[Eubacterium] coprostanligenes group","g_uncultured bacterium","g_Lanchnoclostridium","g_Prevotellaceae NK3B31 group","g_Helicobacter","g_Aloprevotella","g_Muribaculum","g_Anaerotruncus","g_uncultured bacteroidales bacterium","g_Alistipes","g_Akkermansia","g_Faecalibaculum","g_Dubosiella","g_Bacteroides","g_Parabacteriodes"],"range":[570,771.3],"paddingInner":0,"paddingOuter":0},"axis":{"orient":"right","offset":-395.3,"ticks":false,"domain":false,"title":null,"labelFont":"Liberation Serif","labelFontWeight":"normal","labelFontSize":10.5,"labelPadding":5,"labelColor":"#222"}},"color":{"field":"z","type":"quantitative","scale":{"domain":[-1,-0.5,0,0.5,1],"range":["#4575b4","#abd9e9","#ffffbf","#fdae61","#d73027"],"interpolate":"rgb"},"legend":{"orient":"none","legendX":911,"legendY":569,"direction":"vertical","values":[1,0.5,0,-0.5,-1],"format":"~g","gradientLength":78,"gradientThickness":6.3,"title":null,"labelFont":"DejaVu Serif","labelFontWeight":"bold","labelFontSize":9,"labelColor":"#111","labelOffset":2}}}},
{"data":{"values":[
{"x":18,"x2":18,"y":310,"y2":575},{"x":18,"x2":38,"y":310,"y2":310},{"x":38,"x2":38,"y":190,"y2":420},{"x":38,"x2":62,"y":190,"y2":190},{"x":62,"x2":62,"y":100,"y2":280},{"x":62,"x2":70,"y":100,"y2":100},{"x":70,"x2":70,"y":85,"y2":160},{"x":70,"x2":75,"y":85,"y2":85},{"x":70,"x2":75,"y":105,"y2":105},{"x":70,"x2":75,"y":125,"y2":125},{"x":70,"x2":75,"y":160,"y2":160},{"x":62,"x2":68,"y":280,"y2":280},{"x":68,"x2":68,"y":215,"y2":345},{"x":68,"x2":75,"y":215,"y2":215},{"x":68,"x2":75,"y":245,"y2":245},{"x":68,"x2":75,"y":285,"y2":285},{"x":68,"x2":75,"y":345,"y2":345},{"x":38,"x2":55,"y":420,"y2":420},{"x":55,"x2":55,"y":388,"y2":470},{"x":55,"x2":75,"y":388,"y2":388},{"x":55,"x2":68,"y":470,"y2":470},{"x":68,"x2":68,"y":430,"y2":510},{"x":68,"x2":75,"y":430,"y2":430},{"x":68,"x2":75,"y":470,"y2":470},{"x":68,"x2":75,"y":510,"y2":510},{"x":18,"x2":20,"y":575,"y2":575},{"x":20,"x2":20,"y":548,"y2":605},{"x":20,"x2":75,"y":548,"y2":548},{"x":20,"x2":32,"y":605,"y2":605},{"x":32,"x2":32,"y":582,"y2":645},{"x":32,"x2":70,"y":582,"y2":582},{"x":70,"x2":70,"y":568,"y2":608},{"x":70,"x2":75,"y":568,"y2":568},{"x":70,"x2":75,"y":608,"y2":608},{"x":32,"x2":55,"y":645,"y2":645},{"x":55,"x2":55,"y":628,"y2":662},{"x":55,"x2":75,"y":628,"y2":628},{"x":55,"x2":70,"y":662,"y2":662},{"x":70,"x2":70,"y":648,"y2":670},{"x":70,"x2":75,"y":648,"y2":648},{"x":70,"x2":75,"y":670,"y2":670}]},"mark":{"type":"rule","color":"#8a8a8a","strokeWidth":0.9},"encoding":{"x":{"field":"x","type":"quantitative","scale":{"domain":[18,75],"range":[521,540],"zero":false,"nice":false},"axis":null},"x2":{"field":"x2"},"y":{"field":"y","type":"quantitative","scale":{"domain":[75,679],"range":[570,771.3],"zero":false,"nice":false},"axis":null},"y2":{"field":"y2"}}},
{"data":{"values":[{"x":175,"x2":475,"y":47,"y2":47},{"x":175,"x2":175,"y":47,"y2":75},{"x":475,"x2":475,"y":47,"y2":67},{"x":373,"x2":572,"y":67,"y2":67},{"x":373,"x2":373,"y":67,"y2":75},{"x":572,"x2":572,"y":67,"y2":75}]},"mark":{"type":"rule","color":"#8a8a8a","strokeWidth":0.9},"encoding":{"x":{"field":"x","type":"quantitative","scale":{"domain":[75,671],"range":[540,738.7],"zero":false,"nice":false},"axis":null},"x2":{"field":"x2"},"y":{"field":"y","type":"quantitative","scale":{"domain":[47,75],"range":[560.7,570],"zero":false,"nice":false},"axis":null},"y2":{"field":"y2"}}},

{"data":{"values":[{"s":-5},{"s":-4},{"s":-3},{"s":-2},{"s":-1},{"s":0},{"s":1},{"s":2},{"s":3}]},"mark":{"type":"rule","color":"#777","strokeDash":[1,2],"strokeWidth":0.8},"encoding":{"x":{"field":"s","type":"quantitative","scale":{"domain":[-5,3],"range":[257.7,476.9],"nice":false},"axis":{"orient":"bottom","offset":-477.3,"values":[-5,-4,-3,-2,-1,0,1,2,3],"format":"d","domain":false,"ticks":false,"labelFont":"Liberation Serif","labelFontSize":11,"labelPadding":9,"title":"LDA SCORE (log 10)","titleFontSize":13,"titlePadding":7}},"y":{"datum":0,"type":"quantitative","scale":{"domain":[0,1],"range":[845.7,986.7]},"axis":null},"y2":{"datum":1}}},
{"data":{"values":[{"f":"g_Candidatus_Arthromitus","s":2.58,"dir":"pos"},{"f":"g_Blautia","s":-2.29,"dir":"neg"},{"f":"f_Family_XIII","s":-2.47,"dir":"neg"},{"f":"g_Ruminiclostridium","s":-2.51,"dir":"neg"},{"f":"g_Ruminicloccaceae_UGG_004","s":-2.57,"dir":"neg"},{"f":"g_Ruminicloccaceae_UGG_009","s":-2.71,"dir":"neg"},{"f":"g_UBA1819","s":-2.83,"dir":"neg"},{"f":"o_Coriobacteriales","s":-3.05,"dir":"neg"},{"f":"f_Lachnospiraceae","s":-3.54,"dir":"neg"},{"f":"g_Akkrmansia","s":-4.21,"dir":"neg"},{"f":"f_Akkrmansiaaceae","s":-4.21,"dir":"neg"},{"f":"o_Verrucomicrobiales","s":-4.21,"dir":"neg"},{"f":"c_Verrucomicrobiae","s":-4.21,"dir":"neg"}]},"encoding":{"y":{"field":"f","type":"nominal","sort":null,"scale":{"domain":["g_Candidatus_Arthromitus","g_Blautia","f_Family_XIII","g_Ruminiclostridium","g_Ruminicloccaceae_UGG_004","g_Ruminicloccaceae_UGG_009","g_UBA1819","o_Coriobacteriales","f_Lachnospiraceae","g_Akkrmansia","f_Akkrmansiaaceae","o_Verrucomicrobiales","c_Verrucomicrobiae"],"range":[850.6,982.4],"paddingInner":0.2,"paddingOuter":0.1},"axis":null}},"layer":[
{"mark":{"type":"bar","stroke":"#444","strokeWidth":0.8},"encoding":{"x":{"field":"s","type":"quantitative","scale":{"domain":[-5,3],"range":[257.7,476.9],"nice":false},"axis":null},"color":{"field":"dir","scale":{"domain":["neg","pos"],"range":["#ff0000","#0b7a17"]},"legend":null}}},
{"transform":[{"filter":{"field":"dir","equal":"neg"}}],"mark":{"type":"text","font":"Liberation Serif","fontSize":8.9,"align":"left","dx":2,"color":"#223"},"encoding":{"x":{"datum":0,"type":"quantitative","axis":null},"text":{"field":"f"}}},
{"transform":[{"filter":{"field":"dir","equal":"pos"}}],"mark":{"type":"text","font":"Liberation Serif","fontSize":8.9,"align":"right","dx":-2,"color":"#223"},"encoding":{"x":{"datum":0,"type":"quantitative","axis":null},"text":{"field":"f"}}}]},
{"data":{"values":[{"n":"Nr-CWS+IR","col":0},{"n":"PBS+IR","col":1}]},"encoding":{"x":{"field":"col","type":"quantitative","scale":{"domain":[0,1],"range":[265.7,360.3]},"axis":null}},"layer":[{"mark":{"type":"rect","width":12.7,"height":6,"stroke":"#444","strokeWidth":0.6},"encoding":{"y":{"value":834.3},"color":{"field":"n","scale":{"domain":["Nr-CWS+IR","PBS+IR"],"range":["#ff0000","#0b7a17"]},"legend":null}}},{"mark":{"type":"text","font":"Liberation Serif","fontWeight":"bold","fontSize":12.6,"align":"left","dx":13,"color":"#111"},"encoding":{"y":{"value":836},"text":{"field":"n"}}}]},

{"data":{"values":[{"t":"Cladogram"}]},"mark":{"type":"text","font":"Liberation Serif","fontSize":16.5,"color":"#222"},"encoding":{"x":{"value":678.3},"y":{"value":812.3},"text":{"field":"t"}}},
{"data":{"values":[{"n":"Nr-CWS+IR","row":0},{"n":"PBS+IR","row":1}]},"encoding":{"y":{"field":"row","type":"quantitative","scale":{"domain":[0,1],"range":[833.3,844.3]},"axis":null}},"layer":[{"mark":{"type":"rect","width":16.6,"height":5},"encoding":{"x":{"value":570},"color":{"field":"n","scale":{"domain":["Nr-CWS+IR","PBS+IR"],"range":["#ff0000","#0b7a17"]},"legend":null}}},{"mark":{"type":"text","font":"Liberation Serif","fontWeight":"bold","fontSize":12.2,"align":"left","color":"#111"},"encoding":{"x":{"value":580.7},"text":{"field":"n"}}}]},
{"data":{"values":[{"k":"pale","a":288,"a2":342,"r":1,"r2":1.32},{"k":"pale","a":270,"a2":285,"r":1,"r2":1.22},{"k":"pale","a":270,"a2":290,"r":0.6,"r2":1},{"k":"pale","a":310,"a2":345,"r":0.5,"r2":1},{"k":"pale","a":93,"a2":106,"r":0.5,"r2":1.55},{"k":"pale","a":44,"a2":52,"r":0.5,"r2":1.42},{"k":"mid","a":292,"a2":338,"r":1,"r2":1.22},{"k":"mid","a":96,"a2":104,"r":1,"r2":1.45},{"k":"deep","a":295,"a2":312,"r":1,"r2":1.1}]},"mark":{"type":"arc"},"encoding":{"x":{"value":667.7},"y":{"value":924},"theta":{"field":"a","type":"quantitative","stack":null,"scale":{"domain":[0,360],"range":[0,6.2832]}},"theta2":{"field":"a2"},"radius":{"field":"r","type":"quantitative","scale":{"type":"linear","domain":[0,1.6],"range":[0,105.6]}},"radius2":{"field":"r2"},"color":{"field":"k","scale":{"domain":["pale","mid","deep"],"range":["#fcd3d3","#fbb4b4","#f88a8a"]},"legend":null}}},
{"data":{"name":"ring"},"mark":{"type":"line","interpolate":"cardinal-closed","color":"#333","strokeWidth":11,"strokeDash":[0.9,1.1]},"encoding":{"x":{"field":"x","type":"quantitative","scale":{"domain":[-1,1],"range":[603,732.4]},"axis":null},"y":{"field":"y","type":"quantitative","scale":{"domain":[-1,1],"range":[981,867]},"axis":null},"order":{"field":"i"}}},
{"data":{"name":"ring"},"mark":{"type":"line","interpolate":"cardinal-closed","color":"#333","strokeWidth":10,"strokeDash":[0.9,1.1]},"encoding":{"x":{"field":"x","type":"quantitative","scale":{"domain":[-1,1],"range":[614.7,720.7]},"axis":null},"y":{"field":"y","type":"quantitative","scale":{"domain":[-1,1],"range":[970.7,877.3]},"axis":null},"order":{"field":"i"}}},
{"data":{"name":"ring"},"mark":{"type":"line","interpolate":"cardinal-closed","color":"#222","strokeWidth":10,"strokeDash":[0.9,2.6]},"encoding":{"x":{"field":"x","type":"quantitative","scale":{"domain":[-1,1],"range":[626.3,709.1]},"axis":null},"y":{"field":"y","type":"quantitative","scale":{"domain":[-1,1],"range":[960.4,887.6]},"axis":null},"order":{"field":"i"}}},
{"data":{"name":"ring"},"mark":{"type":"line","interpolate":"cardinal-closed","color":"#222","strokeWidth":10,"strokeDash":[0.8,9]},"encoding":{"x":{"field":"x","type":"quantitative","scale":{"domain":[-1,1],"range":[638,697.4]},"axis":null},"y":{"field":"y","type":"quantitative","scale":{"domain":[-1,1],"range":[950.2,897.8]},"axis":null},"order":{"field":"i"}}},
{"data":{"values":[{"a":288,"a2":302,"r":0.8,"r2":1},{"a":266,"a2":276,"r":0.8,"r2":1},{"a":158,"a2":160,"r":0.83,"r2":1},{"a":350,"a2":351.5,"r":0.83,"r2":1},{"a":20,"a2":21.5,"r":0.83,"r2":1}]},"mark":{"type":"arc","color":"black"},"encoding":{"x":{"value":667.7},"y":{"value":924},"theta":{"field":"a","type":"quantitative","stack":null,"scale":{"domain":[0,360],"range":[0,6.2832]}},"theta2":{"field":"a2"},"radius":{"field":"r","type":"quantitative","scale":{"type":"linear","domain":[0,1.6],"range":[0,105.6]}},"radius2":{"field":"r2"}}},
{"data":{"name":"ring"},"mark":{"type":"line","interpolate":"cardinal-closed","color":"#111","strokeWidth":1.6},"encoding":{"x":{"field":"x","type":"quantitative","scale":{"domain":[-1,1],"range":[644.4,691]},"axis":null},"y":{"field":"y","type":"quantitative","scale":{"domain":[-1,1],"range":[944.6,903.4]},"axis":null},"order":{"field":"i"}}},
{"data":{"name":"ring"},"mark":{"type":"line","interpolate":"cardinal-closed","color":"#111","strokeWidth":1.3},"encoding":{"x":{"field":"x","type":"quantitative","scale":{"domain":[-1,1],"range":[632.4,703]},"axis":null},"y":{"field":"y","type":"quantitative","scale":{"domain":[-1,1],"range":[955.2,892.8]},"axis":null},"order":{"field":"i"}}},
{"data":{"name":"ring"},"mark":{"type":"line","interpolate":"cardinal-closed","color":"#b9b92e","strokeWidth":2.6,"strokeCap":"round","strokeDash":[0.1,7]},"encoding":{"x":{"field":"x","type":"quantitative","scale":{"domain":[-1,1],"range":[620.4,715]},"axis":null},"y":{"field":"y","type":"quantitative","scale":{"domain":[-1,1],"range":[965.7,882.3]},"axis":null},"order":{"field":"i"}}},
{"data":{"name":"ring"},"mark":{"type":"line","interpolate":"cardinal-closed","color":"#b9b92e","strokeWidth":2.6,"strokeCap":"round","strokeDash":[0.1,7]},"encoding":{"x":{"field":"x","type":"quantitative","scale":{"domain":[-1,1],"range":[609,726.4]},"axis":null},"y":{"field":"y","type":"quantitative","scale":{"domain":[-1,1],"range":[975.7,872.3]},"axis":null},"order":{"field":"i"}}},
{"data":{"name":"ring"},"mark":{"type":"line","interpolate":"cardinal-closed","color":"#b9b92e","strokeWidth":2.6,"strokeCap":"round","strokeDash":[0.1,4.6]},"encoding":{"x":{"field":"x","type":"quantitative","scale":{"domain":[-1,1],"range":[597,738.4]},"axis":null},"y":{"field":"y","type":"quantitative","scale":{"domain":[-1,1],"range":[986.3,861.7]},"axis":null},"order":{"field":"i"}}},
{"encoding":{"x":{"field":"x","type":"quantitative","scale":{"domain":[-1,1],"range":[597,738.4]},"axis":null},"y":{"field":"y","type":"quantitative","scale":{"domain":[-1,1],"range":[986.3,861.7]},"axis":null}},"layer":[
{"data":{"values":[{"s":"a","i":0,"x":0.34,"y":-0.04},{"s":"a","i":1,"x":1,"y":-0.128},{"s":"b","i":0,"x":-0.995,"y":-0.016},{"s":"b","i":1,"x":-0.825,"y":0.01},{"s":"c","i":0,"x":-0.47,"y":0.14},{"s":"c","i":1,"x":-0.77,"y":0.3}]},"mark":{"type":"line","color":"#a01018","strokeWidth":1.8},"encoding":{"detail":{"field":"s"},"order":{"field":"i"}}},
{"data":{"values":[{"k":"large","x":-0.156,"y":-0.016},{"k":"small","x":0.175,"y":0.01},{"k":"small","x":-0.307,"y":0.118},{"k":"small","x":0.09,"y":0.32},{"k":"small","x":-0.132,"y":0.289},{"k":"small","x":0.15,"y":0.465},{"k":"small","x":-0.373,"y":0.556},{"k":"small","x":-0.51,"y":0.626},{"k":"small","x":0.292,"y":0.615},{"k":"small","x":0.057,"y":-0.32},{"k":"small","x":-0.297,"y":-0.246},{"k":"small","x":-0.637,"y":-0.139},{"k":"small","x":-0.807,"y":-0.203},{"k":"small","x":-0.25,"y":-0.417},{"k":"small","x":0.34,"y":-0.47},{"k":"small","x":0.198,"y":-0.567},{"k":"small","x":-0.108,"y":-0.578}]},"mark":{"type":"point","filled":true,"fill":"#c8c822","stroke":"#77771a","strokeWidth":0.4,"opacity":1},"encoding":{"size":{"field":"k","scale":{"domain":["small","large"],"range":[20,55]},"legend":null}}},
{"data":{"values":[{"x":0.34,"y":-0.04},{"x":0.505,"y":-0.064},{"x":0.67,"y":-0.06},{"x":0.835,"y":-0.107},{"x":1,"y":-0.128},{"x":-0.47,"y":0.14},{"x":-0.627,"y":0.198},{"x":-0.77,"y":0.3},{"x":-0.825,"y":0.01},{"x":-0.995,"y":-0.016},{"x":0.358,"y":0.364}]},"mark":{"type":"point","filled":true,"fill":"#ee1111","stroke":"#300","strokeWidth":0.4,"size":20,"opacity":1}}
]},
{"data":{"values":[{"t":"c_Clostridia"}]},"mark":{"type":"text","font":"Liberation Serif","fontSize":9.5,"angle":290,"color":"#8b3a4a"},"encoding":{"x":{"value":576.7},"y":{"value":895},"text":{"field":"t"}}},
{"data":{"values":[{"t":"c_Coriobacteria"}]},"mark":{"type":"text","font":"Liberation Serif","fontSize":9.5,"angle":47,"color":"#8b3a4a"},"encoding":{"x":{"value":735},"y":{"value":861.7},"text":{"field":"t"}}},
{"data":{"values":[{"t":"c_Verrucomicrobia"}]},"mark":{"type":"text","font":"Liberation Serif","fontSize":9.5,"angle":82,"color":"#8b3a4a"},"encoding":{"x":{"value":771.7},"y":{"value":937},"text":{"field":"t"}}},
{"data":{"values":[{"t":"o_Verrucomicrobiales"}]},"mark":{"type":"text","font":"Liberation Serif","fontSize":9.5,"angle":85,"color":"#8b3a4a"},"encoding":{"x":{"value":761},"y":{"value":933},"text":{"field":"t"}}},
{"data":{"values":[{"n":"a:g_Candidatus_Arthromitus","row":0,"c":"PBS+IR"},{"n":"b:f_Lachnospiraceae","row":1,"c":"Nr-CWS+IR"},{"n":"c:g_Ruminococcaceae-UCG_004","row":2,"c":"Nr-CWS+IR"},{"n":"d:g_Ruminococcaceae-UCG_009","row":3,"c":"Nr-CWS+IR"},{"n":"e:f_Ruminococcaceae","row":4,"c":"Nr-CWS+IR"},{"n":"f:o_Clostridiales","row":5,"c":"Nr-CWS+IR"},{"n":"g:g_Akkermansia","row":6,"c":"Nr-CWS+IR"},{"n":"h:f_Akkermansiaceae","row":7,"c":"Nr-CWS+IR"},{"n":"i:o_Verrucomicrobiales","row":8,"c":"Nr-CWS+IR"}]},"encoding":{"y":{"field":"row","type":"quantitative","scale":{"domain":[0,8],"range":[822.7,907.3]},"axis":null}},"layer":[{"mark":{"type":"rect","width":11.6,"height":5,"stroke":"#333","strokeWidth":0.6},"encoding":{"x":{"value":792.5},"color":{"field":"c","scale":{"domain":["Nr-CWS+IR","PBS+IR"],"range":["#ff0000","#0b7a17"]},"legend":null}}},{"mark":{"type":"text","font":"Liberation Serif","fontSize":9.2,"align":"left","color":"#223"},"encoding":{"x":{"value":799.3},"text":{"field":"n"}}}]},

{"data":{"values":[{"t":"Figure 6."}]},"mark":{"type":"text","font":"Liberation Sans","fontWeight":"bold","fontSize":12,"align":"left","baseline":"middle","color":"#111"},"encoding":{"x":{"value":116},"y":{"value":1059},"text":{"field":"t"}}},
{"data":{"values":[{"t":"Nr-CWS treatment improves the abundance and constitution of gut microbiota in WAI mice. Feces were collected from the NO IR group mice and"}]},"mark":{"type":"text","font":"Liberation Sans","fontSize":13.2,"align":"left","baseline":"middle","color":"#222"},"encoding":{"x":{"value":170},"y":{"value":1059},"text":{"field":"t"}}},
{"data":{"values":[
{"line":2,"t":"the irradiated mice treated with Nr-CWS/PBS at 3.5 d after 12 Gy WAI, and assessed by 16S rDNA high-throughput sequencing. (a) Venn diagram displaying"},
{"line":3,"t":"the overlaps among groups. (b) Chao1 index, the observed species number and ACE of intestinal bacterial flora. (c) Relative abundance of the top 10 gut"},
{"line":4,"t":"microbiota at the family level in mice. (d) Relative abundance of the top 10 gut microbiota at the phylum level in mice. (e) Cluster analysis by using non-metric"},
{"line":5,"t":"multi-dimensional scaling (NMDS). Each spot represents one sample, the distance between points represents the degree of difference, and each group of mice is"},
{"line":6,"t":"labeled by a different color. (f) Heat map analysis of abundance clustering at genus level; the heat map shows the top 30 genera ranked on the basis of abundance."},
{"line":7,"t":"Each column in the heatmap represents one group and each row represents one genus. The color bar showing blue to red indicates the relative abundance"},
{"line":8,"t":"of each genus. (g) Linear discriminant analysis (LDA) effect size (LEfSe) results show that bacterial abundances were obviously different between the PBS + IR"},
{"line":9,"t":"and Nr-CWS + IR groups, and indicate the effect size of the most differentially abundant bacterial taxon in the intestine. The length of the histogram represents"},
{"line":10,"t":"the size of the LDA value, and the threshold on the logarithmic LDA score for discriminative features was 2. (h) Cladogram derived from LEfSe analysis of 16S"},
{"line":11,"t":"rDNA sequences. Regions in green indicate clades that were enriched in PBS + IR group, while regions in red indicate clades that were enriched in Nr-CWS + IR"},
{"line":12,"t":"group. Regions in yellow indicate clades with no significant difference. From inside to outside, the cladogram denotes the taxonomic level of phylum, class,"},
{"line":13,"t":"order, family and genus. n = 5 (**p < 0.01, ***p < 0.001). Nr-CWS nocardia rubra cell wall skeleton, PBS phosphate-buffered saline, IR ionizing radiation, OTU"},
{"line":14,"t":"operational taxonomic unit, LDA linear discriminant analysis"}]},"mark":{"type":"text","font":"Liberation Sans","align":"left","baseline":"middle","color":"#222"},"encoding":{"x":{"value":116},"y":{"field":"line","type":"quantitative","scale":{"domain":[1,14],"range":[1059,1287]},"axis":null},"text":{"field":"t"},"size":{"field":"line","type":"ordinal","scale":{"type":"ordinal","domain":[2,3,4,5,6,7,8,9,10,11,12,13,14],"range":[13.0,13.26,12.85,12.47,12.27,12.83,12.46,12.47,12.44,12.17,12.46,12.28,12.32]},"legend":null}}}
],
"resolve":{"scale":{"x":"independent","y":"independent","color":"independent","fill":"independent","stroke":"independent","size":"independent","theta":"independent","radius":"independent"},"axis":{"x":"independent","y":"independent"},"legend":{"color":"independent"}}}
